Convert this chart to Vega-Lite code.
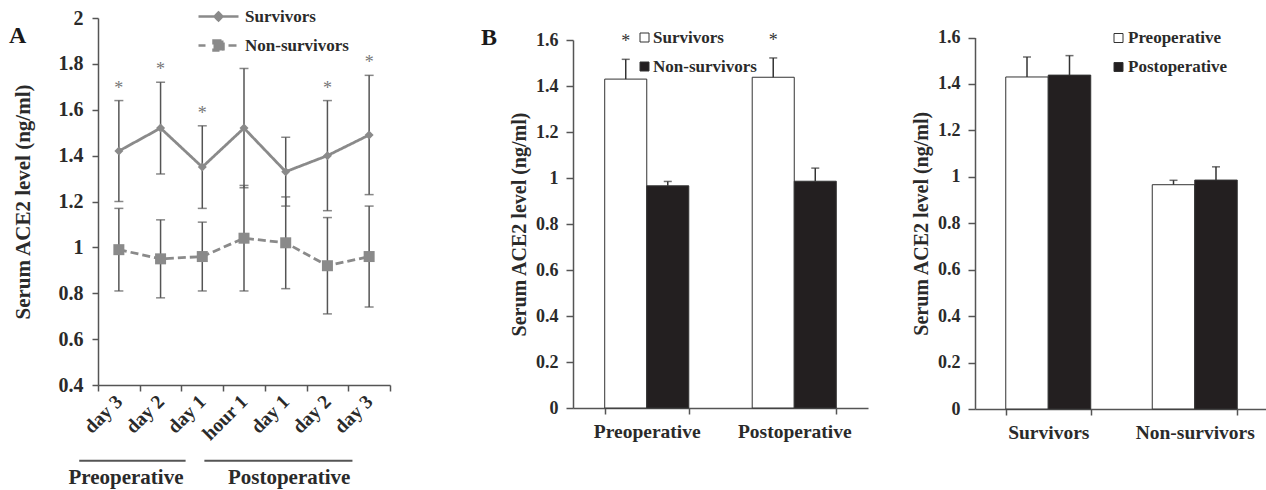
{
  "$schema": "https://vega.github.io/schema/vega-lite/v6.json",
  "background": "white",
  "padding": {"left": 9, "top": 8, "right": 0, "bottom": 0},
  "datasets": {
    "lineA": [
      {"group": "Survivors", "time": "Pre day 3", "mean": 1.42, "lo": 1.20, "hi": 1.64, "sig": "*"},
      {"group": "Survivors", "time": "Pre day 2", "mean": 1.52, "lo": 1.32, "hi": 1.72, "sig": "*"},
      {"group": "Survivors", "time": "Pre day 1", "mean": 1.35, "lo": 1.17, "hi": 1.53, "sig": "*"},
      {"group": "Survivors", "time": "Post hour 1", "mean": 1.52, "lo": 1.26, "hi": 1.78, "sig": ""},
      {"group": "Survivors", "time": "Post day 1", "mean": 1.33, "lo": 1.18, "hi": 1.48, "sig": ""},
      {"group": "Survivors", "time": "Post day 2", "mean": 1.40, "lo": 1.16, "hi": 1.64, "sig": "*"},
      {"group": "Survivors", "time": "Post day 3", "mean": 1.49, "lo": 1.23, "hi": 1.75, "sig": "*"},
      {"group": "Non-survivors", "time": "Pre day 3", "mean": 0.99, "lo": 0.81, "hi": 1.17, "sig": ""},
      {"group": "Non-survivors", "time": "Pre day 2", "mean": 0.95, "lo": 0.78, "hi": 1.12, "sig": ""},
      {"group": "Non-survivors", "time": "Pre day 1", "mean": 0.96, "lo": 0.81, "hi": 1.11, "sig": ""},
      {"group": "Non-survivors", "time": "Post hour 1", "mean": 1.04, "lo": 0.81, "hi": 1.27, "sig": ""},
      {"group": "Non-survivors", "time": "Post day 1", "mean": 1.02, "lo": 0.82, "hi": 1.22, "sig": ""},
      {"group": "Non-survivors", "time": "Post day 2", "mean": 0.92, "lo": 0.71, "hi": 1.13, "sig": ""},
      {"group": "Non-survivors", "time": "Post day 3", "mean": 0.96, "lo": 0.74, "hi": 1.18, "sig": ""}
    ],
    "phases": [
      {"phase": "Preoperative", "first": "Pre day 3", "last": "Pre day 1"},
      {"phase": "Postoperative", "first": "Post hour 1", "last": "Post day 3"}
    ],
    "barB": [
      {"period": "Preoperative", "group": "Survivors", "mean": 1.43, "hi": 1.516, "sig": "*"},
      {"period": "Preoperative", "group": "Non-survivors", "mean": 0.966, "hi": 0.985, "sig": ""},
      {"period": "Postoperative", "group": "Survivors", "mean": 1.438, "hi": 1.522, "sig": "*"},
      {"period": "Postoperative", "group": "Non-survivors", "mean": 0.986, "hi": 1.043, "sig": ""}
    ]
  },
  "hconcat": [
    {
      "width": 292,
      "height": 367,
      "title": {"text": "A", "anchor": "start", "frame": "group", "dx": -89, "dy": 44, "fontSize": 24},
      "layer": [
        {
          "data": {"name": "lineA"},
          "mark": {"type": "rule", "color": "#555555", "strokeWidth": 1.5},
          "encoding": {
            "x": {"field": "time", "type": "nominal", "title": null, "scale": {"domain": ["Pre day 3", "Pre day 2", "Pre day 1", "Post hour 1", "Post day 1", "Post day 2", "Post day 3"], "paddingInner": 0, "paddingOuter": 0}, "axis": {"title": null, "labelAngle": -45, "labelAlign": "right", "labelBaseline": "middle", "labelFontSize": 19.5, "tickBand": "extent", "tickSize": 6, "labelPadding": 7, "labelExpr": "slice(datum.label, indexof(datum.label, ' ') + 1)"}},
            "y": {"field": "lo", "type": "quantitative", "title": "Serum ACE2 level (ng/ml)", "scale": {"domain": [0.4, 2], "nice": false, "zero": false}, "axis": {"values": [0.4, 0.6, 0.8, 1, 1.2, 1.4, 1.6, 1.8, 2], "format": "~g", "title": "Serum ACE2 level (ng/ml)", "titleFontSize": 21, "labelFontSize": 20, "tickSize": 6, "labelPadding": 9, "titlePadding": 25}},
            "y2": {"field": "hi"}
          }
        },
        {
          "data": {"name": "lineA"},
          "mark": {"type": "tick", "color": "#555555", "thickness": 1.5, "size": 9},
          "encoding": {
            "x": {"field": "time", "type": "nominal", "title": null},
            "y": {"field": "lo", "type": "quantitative", "title": "Serum ACE2 level (ng/ml)"}
          }
        },
        {
          "data": {"name": "lineA"},
          "mark": {"type": "tick", "color": "#555555", "thickness": 1.5, "size": 9},
          "encoding": {
            "x": {"field": "time", "type": "nominal", "title": null},
            "y": {"field": "hi", "type": "quantitative", "title": "Serum ACE2 level (ng/ml)"}
          }
        },
        {
          "data": {"name": "lineA"},
          "mark": {"type": "line", "color": "#8a8a8a", "strokeWidth": 2.8},
          "encoding": {
            "x": {"field": "time", "type": "nominal", "title": null},
            "y": {"field": "mean", "type": "quantitative", "title": "Serum ACE2 level (ng/ml)"},
            "strokeDash": {
              "field": "group", "type": "nominal",
              "scale": {"domain": ["Survivors", "Non-survivors"], "range": [[1, 0], [8, 4]]},
              "legend": {
                "orient": "none", "legendX": 112, "legendY": -10, "title": null,
                "symbolType": "M-4,0H4", "symbolSize": 100, "symbolStrokeWidth": 2.5, "symbolStrokeColor": "#8a8a8a", "symbolFillColor": "#8a8a8a",
                "labelFontSize": 17, "labelOffset": 18, "rowPadding": 9,
                "encode": {"symbols": {"update": {
                  "shape": {"signal": "datum.value === 'Survivors' ? 'M-4,0H4M-0.8,0L0,-0.8L0.8,0L0,0.8Z' : 'M-4,0H-2.6M2,0H4M-1,-1H1V1H-1Z'"},
                  "size": {"value": 100},
                  "fill": {"value": "#8a8a8a"},
                  "stroke": {"value": "#8a8a8a"},
                  "strokeWidth": {"value": 2.5},
                  "opacity": {"value": 1},
                  "strokeDash": {"value": [1, 0]}
                }}}
              }
            }
          }
        },
        {
          "data": {"name": "lineA"},
          "transform": [{"filter": "datum.group === 'Survivors'"}],
          "mark": {"type": "point", "filled": true, "color": "#8a8a8a", "opacity": 1, "shape": "diamond", "size": 81},
          "encoding": {
            "x": {"field": "time", "type": "nominal", "title": null},
            "y": {"field": "mean", "type": "quantitative", "title": "Serum ACE2 level (ng/ml)"}
          }
        },
        {
          "data": {"name": "lineA"},
          "transform": [{"filter": "datum.group === 'Non-survivors'"}],
          "mark": {"type": "point", "filled": true, "color": "#8a8a8a", "opacity": 1, "shape": "square", "size": 121},
          "encoding": {
            "x": {"field": "time", "type": "nominal", "title": null},
            "y": {"field": "mean", "type": "quantitative", "title": "Serum ACE2 level (ng/ml)"}
          }
        },
        {
          "data": {"name": "lineA"},
          "mark": {"type": "text", "color": "#777777", "fontSize": 18, "dy": -7, "baseline": "alphabetic", "font": "Liberation Serif"},
          "encoding": {
            "x": {"field": "time", "type": "nominal", "title": null},
            "y": {"field": "hi", "type": "quantitative", "title": "Serum ACE2 level (ng/ml)"},
            "text": {"field": "sig"}
          }
        },
        {
          "data": {"name": "phases"},
          "mark": {"type": "rule", "color": "#555555", "strokeWidth": 2, "clip": false},
          "encoding": {
            "x": {"field": "first", "type": "nominal", "title": null, "bandPosition": -0.45},
            "x2": {"field": "last", "bandPosition": 0.1},
            "y": {"datum": 0.07, "type": "quantitative", "title": "Serum ACE2 level (ng/ml)"}
          }
        },
        {
          "data": {"name": "phases"},
          "mark": {"type": "text", "color": "#2a2a2a", "fontSize": 21, "fontWeight": "bold", "font": "Liberation Serif", "align": "right", "baseline": "middle", "clip": false},
          "encoding": {
            "x": {"field": "last", "type": "nominal", "title": null, "bandPosition": 0.05},
            "y": {"datum": -0.006, "type": "quantitative", "title": "Serum ACE2 level (ng/ml)"},
            "text": {"field": "phase"}
          }
        }
      ]
    },
    {
      "spacing": 43,
      "resolve": {"scale": {"x": "independent", "y": "independent", "xOffset": "independent", "fill": "independent"}, "legend": {"fill": "independent"}},
      "hconcat": [
        {
          "width": 295,
          "height": 390,
          "title": {"text": "B", "anchor": "start", "frame": "group", "dx": -92, "dy": 36, "fontSize": 24},
          "data": {"name": "barB"},
          "encoding": {
            "x": {"field": "period", "type": "nominal", "title": null, "scale": {"domain": ["Preoperative", "Postoperative"], "paddingInner": 0.43, "paddingOuter": 0.215}, "axis": {"title": null, "labelAngle": 0, "labelFontSize": 19.5, "tickBand": "extent", "tickSize": 6, "labelPadding": 8}},
            "xOffset": {"field": "group", "type": "nominal", "scale": {"domain": ["Survivors", "Non-survivors"], "paddingInner": 0, "paddingOuter": 0}}
          },
          "layer": [
            {
              "mark": {"type": "bar", "stroke": "#333333", "strokeWidth": 1},
              "encoding": {
                "y": {"field": "mean", "type": "quantitative", "title": "Serum ACE2 level (ng/ml)", "scale": {"domain": [0, 1.6], "range": [390, 22], "nice": false}, "axis": {"values": [0, 0.2, 0.4, 0.6, 0.8, 1, 1.2, 1.4, 1.6], "format": "~g", "title": "Serum ACE2 level (ng/ml)", "titleFontSize": 20, "labelFontSize": 18, "tickSize": 7, "labelPadding": 8, "titlePadding": 6}},
                "fill": {
                  "field": "group", "type": "nominal",
                  "scale": {"domain": ["Survivors", "Non-survivors"], "range": ["#ffffff", "#231f20"]},
                  "legend": {"orient": "none", "legendX": 63, "legendY": 11, "title": null, "symbolType": "square", "symbolSize": 81, "labelFontSize": 17, "labelOffset": 0, "rowPadding": 11, "symbolStrokeColor": "#333333", "symbolStrokeWidth": 1,
                    "encode": {"symbols": {"update": {"stroke": {"value": "#333333"}, "strokeWidth": {"value": 1}}}}}
                }
              }
            },
            {
              "mark": {"type": "rule", "color": "#333333", "strokeWidth": 1.5},
              "encoding": {
                "y": {"field": "mean", "type": "quantitative", "title": "Serum ACE2 level (ng/ml)"},
                "y2": {"field": "hi"}
              }
            },
            {
              "mark": {"type": "tick", "color": "#333333", "thickness": 1.5, "size": 8},
              "encoding": {
                "y": {"field": "hi", "type": "quantitative", "title": "Serum ACE2 level (ng/ml)"}
              }
            },
            {
              "mark": {"type": "text", "color": "#333333", "fontSize": 18, "dy": -12, "baseline": "alphabetic", "font": "Liberation Serif"},
              "encoding": {
                "y": {"field": "hi", "type": "quantitative", "title": "Serum ACE2 level (ng/ml)"},
                "text": {"field": "sig"}
              }
            }
          ]
        },
        {
          "width": 293,
          "height": 391,
          "data": {"name": "barB"},
          "encoding": {
            "x": {"field": "group", "type": "nominal", "title": null, "scale": {"domain": ["Survivors", "Non-survivors"], "paddingInner": 0.42, "paddingOuter": 0.21}, "axis": {"title": null, "labelAngle": 0, "labelFontSize": 19.5, "tickBand": "extent", "tickSize": 6, "labelPadding": 8}},
            "xOffset": {"field": "period", "type": "nominal", "scale": {"domain": ["Preoperative", "Postoperative"], "paddingInner": 0, "paddingOuter": 0}}
          },
          "layer": [
            {
              "mark": {"type": "bar", "stroke": "#333333", "strokeWidth": 1},
              "encoding": {
                "y": {"field": "mean", "type": "quantitative", "title": "Serum ACE2 level (ng/ml)", "scale": {"domain": [0, 1.6], "range": [391, 19.5], "nice": false}, "axis": {"values": [0, 0.2, 0.4, 0.6, 0.8, 1, 1.2, 1.4, 1.6], "format": "~g", "title": "Serum ACE2 level (ng/ml)", "titleFontSize": 20, "labelFontSize": 18, "tickSize": 7, "labelPadding": 8, "titlePadding": 6}},
                "fill": {
                  "field": "period", "type": "nominal",
                  "scale": {"domain": ["Preoperative", "Postoperative"], "range": ["#ffffff", "#231f20"]},
                  "legend": {"orient": "none", "legendX": 135, "legendY": 11.5, "title": null, "symbolType": "square", "symbolSize": 81, "labelFontSize": 17, "labelOffset": 1, "rowPadding": 11, "symbolStrokeColor": "#333333", "symbolStrokeWidth": 1,
                    "encode": {"symbols": {"update": {"stroke": {"value": "#333333"}, "strokeWidth": {"value": 1}}}}}
                }
              }
            },
            {
              "mark": {"type": "rule", "color": "#333333", "strokeWidth": 1.5},
              "encoding": {
                "y": {"field": "mean", "type": "quantitative", "title": "Serum ACE2 level (ng/ml)"},
                "y2": {"field": "hi"}
              }
            },
            {
              "mark": {"type": "tick", "color": "#333333", "thickness": 1.5, "size": 8},
              "encoding": {
                "y": {"field": "hi", "type": "quantitative", "title": "Serum ACE2 level (ng/ml)"}
              }
            }
          ]
        }
      ]
    }
  ],
  "spacing": 90,
  "resolve": {"scale": {"x": "independent", "y": "independent", "xOffset": "independent", "fill": "independent", "strokeDash": "independent"}, "legend": {"fill": "independent", "strokeDash": "independent"}},
  "config": {
    "font": "Liberation Serif",
    "view": {"stroke": null},
    "axis": {"labelFont": "Liberation Serif", "labelFontWeight": "bold", "titleFont": "Liberation Serif", "titleFontWeight": "bold", "labelColor": "#2a2a2a", "titleColor": "#2a2a2a", "domainColor": "#555555", "tickColor": "#555555", "grid": false, "domainWidth": 1.5, "tickWidth": 1.5},
    "legend": {"labelFont": "Liberation Serif", "labelFontWeight": "bold", "labelColor": "#2a2a2a"},
    "title": {"font": "Liberation Serif", "fontWeight": "bold", "color": "#1a1a1a"}
  }
}
